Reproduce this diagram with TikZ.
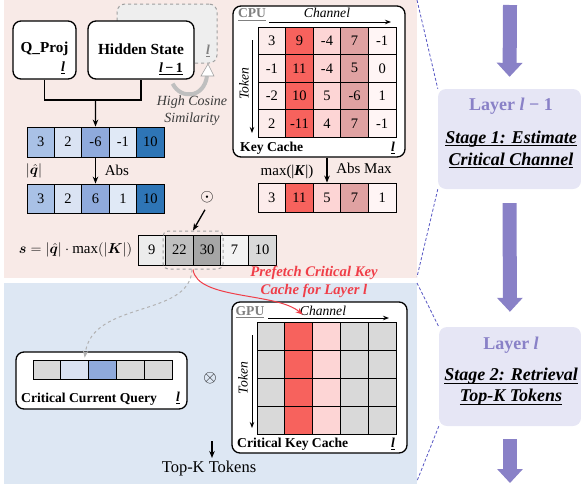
\documentclass[tikz,border=0pt]{standalone}
\usepackage{fontspec}
\setmainfont{Liberation Serif}
\usepackage{amsmath,bm}
\usetikzlibrary{arrows.meta,calc}
\newcommand\fsz[1]{\fontsize{#1}{#1}\selectfont}
\newcommand\fszb[2]{\fontsize{#1}{#2}\selectfont}
\newcommand\ul[1]{\underline{\textbf{\textit{#1}}}}
\newcommand\thul[1]{\setbox0\hbox{#1}\rlap{\rule[-3.2pt]{\wd0}{1.1pt}}\box0}
\definecolor{pinkbg}{RGB}{248,234,231}
\definecolor{bluebg}{RGB}{221,231,243}
\definecolor{lav}{RGB}{230,230,245}
\definecolor{purp}{RGB}{137,129,199}
\definecolor{dashpurp}{RGB}{85,85,195}
\definecolor{ghost}{RGB}{238,238,238}
\definecolor{qa}{RGB}{169,193,230}
\definecolor{qb}{RGB}{218,227,243}
\definecolor{qc}{RGB}{143,170,220}
\definecolor{qd}{RGB}{224,233,246}
\definecolor{qe}{RGB}{46,117,182}
\definecolor{kc1}{RGB}{252,236,235}
\definecolor{kc2}{RGB}{247,98,93}
\definecolor{kc3}{RGB}{253,213,213}
\definecolor{kc4}{RGB}{224,162,162}
\definecolor{kc5}{RGB}{255,245,245}
\definecolor{sa}{RGB}{236,236,236}
\definecolor{sb}{RGB}{191,191,191}
\definecolor{sc}{RGB}{166,166,166}
\definecolor{sd}{RGB}{243,243,243}
\definecolor{se}{RGB}{217,217,217}
\definecolor{gc1}{RGB}{217,217,217}
\definecolor{gc2}{RGB}{247,98,93}
\definecolor{gc3}{RGB}{253,213,213}
\definecolor{gc4}{RGB}{217,217,217}
\definecolor{gc5}{RGB}{217,217,217}
\definecolor{cqa}{RGB}{217,217,217}
\definecolor{cqb}{RGB}{218,227,243}
\definecolor{cqc}{RGB}{143,170,220}
\definecolor{cqd}{RGB}{217,217,217}
\definecolor{cqe}{RGB}{217,217,217}
\definecolor{prefred}{RGB}{240,62,72}
\definecolor{cosgray}{RGB}{60,60,60}
\begin{document}
\begin{tikzpicture}[x=1pt,y=-1pt,
  cell/.style={draw=black, line width=0.8pt, minimum width=27.6pt, minimum height=30pt, inner sep=0pt, font=\fsz{14.5}},
  rbox/.style={draw=black, line width=1.3pt, rounded corners=8pt, fill=white, inner sep=0pt},
  conn/.style={line width=1.3pt, -{Stealth[length=7pt,width=5.5pt]}},
  axis/.style={line width=1pt, -{Stealth[length=6pt,width=4.5pt]}},
  lbl/.style={font=\fsz{13.6}\bfseries, inner sep=0pt},
  parrow/.style={draw=purp, line width=14pt, -{Triangle[length=14pt,width=25pt]}},
  dline/.style={draw=dashpurp, line width=0.8pt, dash pattern=on 3pt off 2pt},
  stagebox/.style={fill=lav, rounded corners=8pt, inner sep=0pt}
]
\useasboundingbox (0,0) rectangle (581,488);
% backgrounds
\fill[pinkbg] (4,0) rectangle (417,278);
\fill[bluebg] (4,283) rectangle (417,484);

% ---------- right panel ----------
\node[stagebox, minimum width=143pt, minimum height=100pt] (st1) at (509.5,139) {};
\node[stagebox, minimum width=142pt, minimum height=99pt] (st2) at (510,376.5) {};
\node[font=\fsz{18}\bfseries, text=purp] (lay1) at (511,106) {Layer \textit{l} − 1};
\node[font=\fszb{18}{22}\bfseries\itshape, align=center] (stg1) at (511,149.5) {\thul{Stage 1: Estimate}\\\thul{Critical Channel}};
\node[font=\fsz{18}\bfseries, text=purp] (lay2) at (511,345) {Layer \textit{l}};
\node[font=\fszb{18}{21}\bfseries\itshape, align=center] (stg2) at (511,387) {\thul{Stage 2: Retrieval}\\\thul{Top-K Tokens}};
\coordinate (pa0) at (510,5);
\coordinate (pa3) at (510,483);
\draw[parrow, shorten >=12pt] (pa0) -- (st1.north);
\draw[parrow, shorten <=14pt, shorten >=15pt] (st1.south) -- (st2.north);
\draw[parrow, shorten <=13pt] (st2.south) -- (pa3);
\coordinate (d1) at (417,0);
\coordinate (d2) at (417,277);
\coordinate (d3) at (417,283);
\coordinate (d4) at (417,481);
\draw[dline] (d1) -- (st1.north west);
\draw[dline] (st1.south west) -- (d2);
\draw[dline] (d3) -- (st2.north west);
\draw[dline] (st2.south west) -- (d4);

% ---------- top left ----------
\node[rbox, dashed, draw=gray!75, fill=ghost, line width=1pt, minimum width=100pt, minimum height=59pt] (prev) at (167,33.5) {};
\node[font=\fsz{13.6}, text=gray] (prevl) at (208,51) {\ul{l}};
\node[rbox, minimum width=106pt, minimum height=58pt] (hid) at (141,50) {};
\node[font=\fsz{15.4}\bfseries] (hidt) at (141,49) {Hidden State};
\node[font=\fsz{14}] (hidl) at (171,69) {\underline{\textbf{\textit{l}}\,\textbf{−\,1}}};
\node[rbox, minimum width=63pt, minimum height=58pt] (qp) at (44.5,50) {};
\node[font=\fsz{15.2}\bfseries] (qpt) at (44.5,49) {Q\_Proj};
\node[font=\fsz{14}] (qpl) at (63,68) {\ul{l}};
% hollow curved arrow
\draw[gray!50, line width=4pt] ($(hid.south east)+(-22,4)$) .. controls (181,100) and (204,98) .. (207,76);
\draw[gray!75, fill=white, line width=0.6pt] (201,76) -- (208,64) -- (214,76) -- cycle;
\node[font=\fszb{14}{17}\itshape, text=cosgray, align=center] (cos) at (192,111) {High Cosine\\Similarity};

% q vector
\foreach \v/\c [count=\i] in {3/qa,2/qb,-6/qc,-1/qd,10/qe}
  \node[cell, fill=\c, minimum width=27.4pt] (q\i) at ({40.7+27.4*(\i-1)},142) {\v};
\coordinate (jn) at (95.5,100);
\draw[line width=1.3pt] (qp.south) |- (jn) -| (hid.south);
\draw[conn] (jn) -- (q3.north);
% abs vector
\foreach \v/\c [count=\i] in {3/qa,2/qb,6/qc,1/qd,10/qe}
  \node[cell, fill=\c, minimum width=27.4pt, minimum height=29pt] (a\i) at ({40.7+27.4*(\i-1)},198.5) {\v};
\draw[conn] (q3.south) -- (a3.north);
\node[font=\fsz{15}] (qlab) at (34,171) {$|\hat{\bm{q}}|$};
\node[font=\fsz{15}] (abslab) at (117,170) {Abs};

% s vector
\foreach \v/\c [count=\i] in {9/sa,22/sb,30/sc,7/sd,10/se}
  \node[cell, fill=\c] (s\i) at ({151.8+27.6*(\i-1)},250) {\v};
\node[draw=gray!75, dashed, rounded corners=5pt, line width=1pt, minimum width=60pt, minimum height=38pt, inner sep=0pt] (sel) at (193,250) {};
\node[font=\fsz{15}, anchor=east] (sform) at ($(s1.west)+(-2,0)$) {$\bm{s} = |\hat{\bm{q}}| \cdot \max(|\bm{K}|)$};
\node[font=\fsz{17}] (odot) at (207,197) {$\odot$};
\draw[conn, shorten <=4pt] (odot.south) -- (sel.north);

% CPU key cache
\node[rbox, minimum width=172pt, minimum height=151pt] (cpu) at (319,81.5) {};
\node[lbl, text=gray] (cpul) at (252,15) {\underline{CPU}};
\node[font=\fsz{13.6}\itshape] (chan1) at (327,13) {Channel};
\coordinate (ch1a) at (269,22);
\coordinate (ch1b) at (391,22);
\draw[axis] (ch1a) -- (ch1b);
\node[font=\fsz{13.6}\itshape, rotate=90] (tok1) at (244,84) {Token};
\coordinate (tk1a) at (252,40);
\coordinate (tk1b) at (252,133);
\draw[axis] (tk1a) -- (tk1b);
\foreach \row [count=\r] in {{3,9,-4,7,-1},{-1,11,-4,5,0},{-2,10,5,-6,1},{2,-11,4,7,-1}}
  \foreach \v [count=\c] in \row
    \node[cell, fill=kc\c, minimum height=27.5pt] (k\r\c) at ({271.8+27.6*(\c-1)},{40.75+27.5*(\r-1)}) {\v};
\node[lbl, anchor=west] (kcl) at (240,148) {Key Cache};
\node[font=\fsz{13.6}] (kcll) at (393,148) {\ul{l}};
% max vector
\foreach \v [count=\c] in {3,11,5,7,1}
  \node[cell, fill=kc\c, minimum height=29pt] (m\c) at ({271.8+27.6*(\c-1)},197.5) {\v};
\draw[conn] (cpu.south -| m3.north) -- (m3.north);
\node[font=\fsz{15}] (maxl) at (287,172) {max(|\textbf{\textit{K}}|)};
\node[font=\fsz{15}] (absmax) at (364,168) {Abs Max};

% prefetch
\node[font=\fszb{14.7}{18}\bfseries\itshape, text=prefred, align=center] (pref) at (314,282) {Prefetch Critical Key\\Cache for Layer \textit{l}};

% GPU key cache
\node[rbox, minimum width=175pt, minimum height=151pt] (gpu) at (319.5,377.5) {};
\node[lbl, text=gray] (gpul) at (250,312) {\underline{GPU}};
\node[font=\fsz{13.6}\itshape] (chan2) at (323,311) {Channel};
\coordinate (ch2a) at (268,318);
\coordinate (ch2b) at (389,318);
\draw[axis] (ch2a) -- (ch2b);
\node[font=\fsz{13.6}\itshape, rotate=90] (tok2) at (243,378) {Token};
\coordinate (tk2a) at (252,335);
\coordinate (tk2b) at (252,428);
\draw[axis] (tk2a) -- (tk2b);
\foreach \r in {1,2,3,4}
  \foreach \c in {1,...,5}
    \node[cell, fill=gc\c, minimum width=27.8pt, minimum height=28pt] (g\r\c) at ({270.9+27.8*(\c-1)},{336+28*(\r-1)}) {};
\node[lbl, anchor=west] (gcl) at (237,444) {Critical Key Cache};
\node[font=\fsz{13.6}] (gcll) at (393,444) {\ul{l}};

% critical current query
\node[rbox, minimum width=171pt, minimum height=57pt] (cqbox) at (101.5,380.5) {};
\foreach \c [count=\i] in {cqa,cqb,cqc,cqd,cqe}
  \node[cell, fill=\c, minimum width=27.8pt, minimum height=19pt] (cq\i) at ({46.9+27.8*(\i-1)},369.5) {};
\node[lbl, anchor=west] (cql) at (21,399) {Critical Current Query};
\node[font=\fsz{13.6}] (cqll) at (178,398) {\ul{l}};
\node[font=\fsz{16}] (otim) at (210,378) {$\otimes$};

% top-k
\node[font=\fsz{16.5}] (topk) at (209,469) {Top-K Tokens};
\coordinate (tka) at (212,441);
\draw[conn] (tka) -- (tka |- topk.north);

% curved arrows
\draw[prefred, line width=1pt, -{Stealth[length=7pt,width=5.5pt]}] (sel.south) .. controls (197,300) and (276,292) .. ($(g12.north)+(4,-7)$);
\draw[gray!60, dashed, line width=1pt, -{Stealth[length=7pt,width=5.5pt]}] ($(sel.south)+(-1,0)$) .. controls (190,318) and (92,300) .. ($(cq2.north)+(10,-2)$);
\end{tikzpicture}
\end{document}
